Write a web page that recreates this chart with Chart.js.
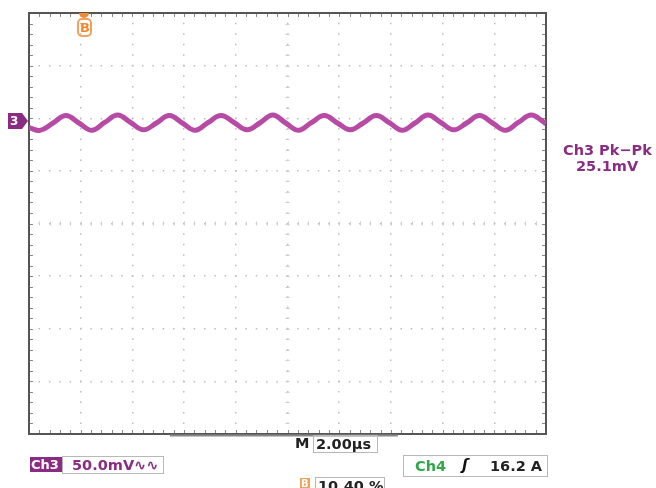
<!DOCTYPE html>
<html>
<head>
<meta charset="utf-8">
<script src="https://cdn.jsdelivr.net/npm/chart.js@4"></script>
<style>
  body { margin: 0; background: #fff; }
  #wrap { position: relative; width: 656px; height: 488px; overflow: hidden; font-family: "DejaVu Sans", sans-serif; font-weight: bold; }
  #scope { position: absolute; left: 0; top: 0; }
  .lbl { position: absolute; white-space: nowrap; line-height: 1; }
  .box { position: absolute; border: 1px solid #b8b8b8; box-sizing: border-box; }
</style>
</head>
<body>
<div id="wrap">
  <canvas id="scope" width="656" height="488"></canvas>

  <!-- channel 3 ground marker -->
  <div class="lbl" style="left:8px;top:113px;width:20px;height:16px;background:#8a2c82;clip-path:polygon(0 0,70% 0,100% 50%,70% 100%,0 100%);"></div>
  <div class="lbl" style="left:10px;top:115px;color:#fff;font-size:12px;">3</div>

  <!-- trigger position marker -->
  <div class="lbl" style="left:79px;top:13px;width:10px;height:5px;background:#f08a30;border-radius:0 0 5px 5px;"></div>
  <div class="lbl" style="left:77px;top:18px;width:15px;height:19px;border:2px solid #f3a15a;border-radius:5px;box-sizing:border-box;"></div>
  <div class="lbl" style="left:80px;top:21px;color:#f08a30;font-size:13px;">B</div>

  <!-- measurement -->
  <div class="lbl" style="left:563px;top:143px;color:#8a2c82;font-size:14.5px;">Ch3 Pk−Pk</div>
  <div class="lbl" style="left:576px;top:159px;color:#8a2c82;font-size:14.5px;">25.1mV</div>

  <!-- bottom readouts -->
  <div class="lbl" style="left:30px;top:457px;width:32px;height:15px;background:#8a2c82;"></div>
  <div class="lbl" style="left:31px;top:458px;color:#fff;font-size:13px;">Ch3</div>
  <div class="box" style="left:62px;top:456px;width:102px;height:18px;"></div>
  <div class="lbl" style="left:72px;top:458px;color:#8a2c82;font-size:14.5px;">50.0mV∿∿</div>

  <div class="lbl" style="left:295px;top:436px;color:#222;font-size:14.5px;">M</div>
  <div class="box" style="left:313px;top:435px;width:65px;height:18px;"></div>
  <div class="lbl" style="left:316px;top:437px;color:#222;font-size:14.5px;">2.00µs</div>

  <div class="box" style="left:403px;top:455px;width:145px;height:22px;"></div>
  <div class="lbl" style="left:415px;top:459px;color:#2fa84a;font-size:14.5px;">Ch4</div>
  <div class="lbl" style="left:462px;top:458px;color:#111;font-size:15px;font-style:italic;">ʃ</div>
  <div class="lbl" style="left:490px;top:459px;color:#222;font-size:14.5px;">16.2 A</div>

  <div class="lbl" style="left:300px;top:478px;width:10px;height:11px;background:#f3a15a;"></div>
  <div class="lbl" style="left:301px;top:479px;color:#fff;font-size:10px;">B</div>
  <div class="box" style="left:315px;top:477px;width:70px;height:16px;"></div>
  <div class="lbl" style="left:318px;top:479px;color:#222;font-size:14.5px;">10.40 %</div>
</div>

<script>
// time base: 2 us/div, 10 divisions
const timeUs = [0, 0.43, 0.93, 1.43, 1.93, 2.43, 2.93, 3.43, 3.93, 4.43, 4.93,
    5.43, 5.93, 6.43, 6.93, 7.43, 7.93, 8.43, 8.93, 9.43, 9.93,
    10.43, 10.93, 11.43, 11.93, 12.43, 12.93, 13.43, 13.93, 14.43, 14.93,
    15.43, 15.93, 16.43, 16.93, 17.43, 17.93, 18.43, 18.93, 19.43, 19.93, 20];
// ch3 trace, mV relative to screen centre (50 mV/div, 8 divisions)
const ch3mV = [91, 88.5, 95.5, 102.5, 95.5, 88.5, 96, 103, 96, 89, 95.5,
    102.5, 95.5, 88.5, 96, 102.5, 96, 89, 95.5, 103, 95.5,
    88.5, 96, 102.5, 95.5, 89, 95.5, 102.5, 96, 88.5, 95.5,
    103, 96, 89, 95.5, 102.5, 95.5, 88.5, 96, 103, 96, 94.5];
const xTicks = [0, 20, 2];      // min, max, step (us)
const yTicks = [-200, 200, 50]; // min, max, step (mV)

const points = timeUs.map(function (t, i) {
    return {x: t, y: ch3mV[i]};
});

// border, minor ticks and centre-line ticks like a scope graticule
const graticule = {
    id: 'graticule',
    beforeDatasetsDraw(chart) {
        const ctx = chart.ctx;
        const a = chart.chartArea;
        const xs = chart.scales.x, ys = chart.scales.y;
        const cx = xs.getPixelForValue(10), cy = ys.getPixelForValue(0);
        ctx.save();
        ctx.lineWidth = 1;
        // edge ticks
        ctx.strokeStyle = '#8a8a8a';
        ctx.beginPath();
        for (let t = xTicks[0]; t <= xTicks[1] + 0.001; t += xTicks[2] / 5) {
            const px = Math.round(xs.getPixelForValue(t)) + 0.5;
            ctx.moveTo(px, a.top); ctx.lineTo(px, a.top + 4);
            ctx.moveTo(px, a.bottom); ctx.lineTo(px, a.bottom - 4);
        }
        for (let v = yTicks[0]; v <= yTicks[1] + 0.001; v += yTicks[2] / 5) {
            const py = Math.round(ys.getPixelForValue(v)) + 0.5;
            ctx.moveTo(a.left, py); ctx.lineTo(a.left + 4, py);
            ctx.moveTo(a.right, py); ctx.lineTo(a.right - 4, py);
        }
        ctx.stroke();
        // centre line ticks, faint
        ctx.strokeStyle = '#cfcfcf';
        ctx.beginPath();
        for (let t = xTicks[0]; t <= xTicks[1] + 0.001; t += xTicks[2] / 5) {
            const px = Math.round(xs.getPixelForValue(t)) + 0.5;
            ctx.moveTo(px, cy - 2); ctx.lineTo(px, cy + 2);
        }
        for (let v = yTicks[0]; v <= yTicks[1] + 0.001; v += yTicks[2] / 5) {
            const py = Math.round(ys.getPixelForValue(v)) + 0.5;
            ctx.moveTo(cx - 2, py); ctx.lineTo(cx + 2, py);
        }
        ctx.stroke();
        ctx.strokeStyle = '#555';
        ctx.lineWidth = 2;
        ctx.strokeRect(a.left, a.top, a.right - a.left, a.bottom - a.top);
        // record view bracket on the bottom edge
        ctx.beginPath();
        ctx.lineWidth = 2;
        ctx.strokeStyle = '#888';
        ctx.moveTo(xs.getPixelForValue(5.45), a.bottom + 1.5);
        ctx.lineTo(xs.getPixelForValue(14.27), a.bottom + 1.5);
        ctx.stroke();
        ctx.restore();
    }
};

const ctx = document.querySelector('#scope').getContext('2d');
new Chart(ctx, {
    type: 'line',
    data: {
        datasets: [{
            label: 'Ch3',
            data: points,
            borderColor: 'rgb(182, 74, 164)',
            borderWidth: 5,
            pointRadius: 0,
            tension: 0.4,
            fill: false
        }]
    },
    options: {
        responsive: false,
        animation: false,
        events: [],
        layout: {padding: {left: 29, top: 13, right: 110, bottom: 54}},
        plugins: {legend: {display: false}, tooltip: {enabled: false}},
        scales: {
            x: {
                type: 'linear', min: xTicks[0], max: xTicks[1],
                ticks: {display: false, stepSize: xTicks[2]},
                grid: {color: '#bdbdbd', lineWidth: 1.5, drawTicks: false},
                border: {display: false, dash: [1.5, 9.02], dashOffset: 0.75}
            },
            y: {
                min: yTicks[0], max: yTicks[1],
                ticks: {display: false, stepSize: yTicks[2]},
                grid: {color: '#bdbdbd', lineWidth: 1.5, drawTicks: false},
                border: {display: false, dash: [1.5, 8.84], dashOffset: 0.75}
            }
        }
    },
    plugins: [graticule]
});
</script>
</body>
</html>
